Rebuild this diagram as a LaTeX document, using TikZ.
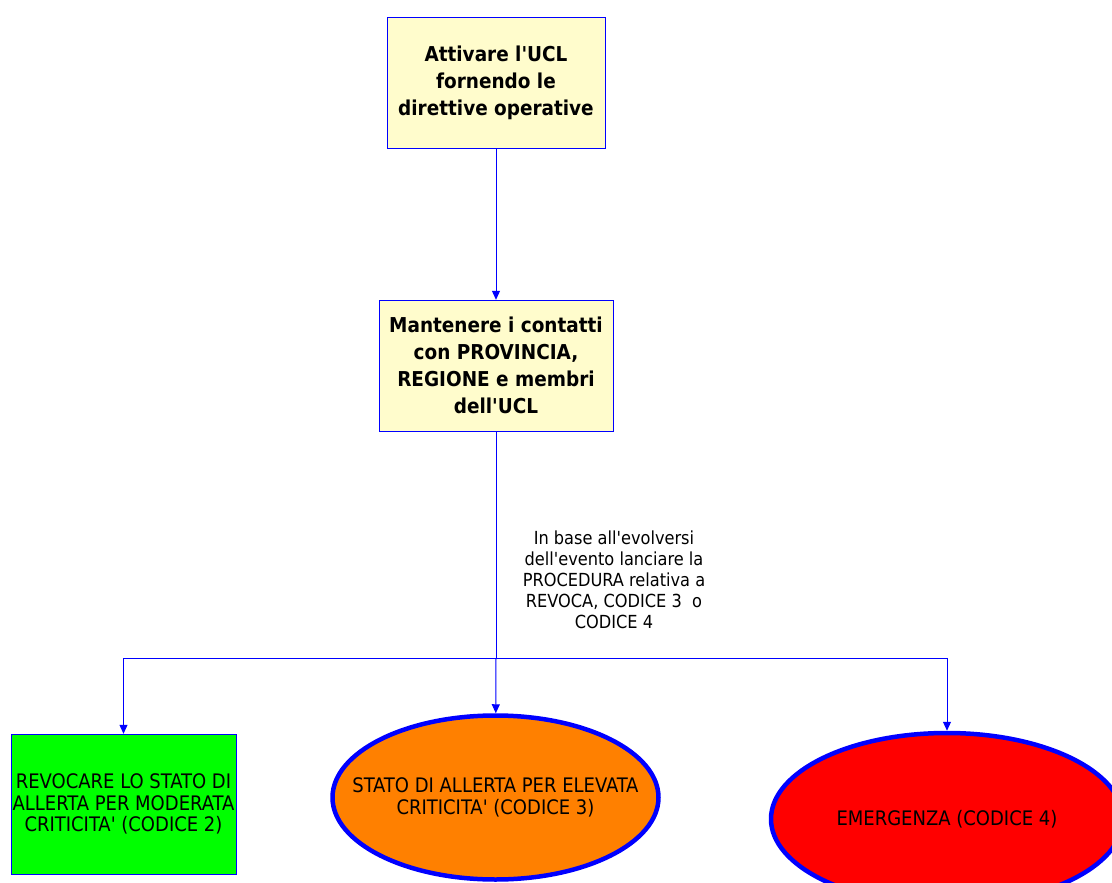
\documentclass[tikz,border=0pt]{standalone}
\usepackage{fontspec}
\setmainfont{DejaVu Sans Condensed}
\usetikzlibrary{shapes.geometric,arrows.meta}
\newcommand{\apice}{\textquotesingle}

\begin{document}
\begin{tikzpicture}[x=1pt, y=-1pt,
    box/.style={draw=blue, fill=yellow!20, align=center, inner sep=0pt,
        font=\bfseries\fontsize{20.5}{27}\selectfont},
    esito/.style={draw=blue, align=center, inner sep=0pt,
        font=\fontsize{20}{21.5}\selectfont},
    stato/.style={ellipse, draw=blue, line width=4.5pt, align=center, inner sep=0pt,
        font=\fontsize{20}{21.5}\selectfont},
    nota/.style={align=center, font=\fontsize{18}{21}\selectfont},
    linea/.style={draw=blue, line width=1pt},
    freccia/.style={linea, -{Triangle[length=9pt, width=8pt]}}]
    \useasboundingbox (0,0) rectangle (1112,883);
    \clip (0,0) rectangle (1112,883);

    \node[box, minimum width=218, minimum height=131] (attiva) at (496,82.5)
        {Attivare l\apice UCL\\fornendo le\\direttive operative};
    \node[box, minimum width=234, minimum height=131] (contatti) at (496,365.5)
        {Mantenere i contatti\\con PROVINCIA,\\REGIONE e membri\\dell\apice UCL};
    \node[nota] (nota) at (614,580)
        {In base all\apice evolversi\\dell\apice evento lanciare la\\PROCEDURA relativa a\\REVOCA, CODICE 3\ \ o\\CODICE 4};
    \coordinate (bivio) at (496,658);

    \node[esito, fill=green, minimum width=225, minimum height=140] (revoca) at (123.5,804)
        {REVOCARE LO STATO DI\\ALLERTA PER MODERATA\\CRITICITA\apice\ (CODICE 2)};
    \node[stato, fill=orange, inner xsep=-32pt, minimum width=326, minimum height=164] (allerta) at (495.5,797.5)
        {STATO DI ALLERTA PER ELEVATA\\CRITICITA\apice\ (CODICE 3)};
    \node[stato, fill=red, minimum width=352, minimum height=172] (emergenza) at (947,819)
        {EMERGENZA (CODICE 4)};

    \draw[freccia] (attiva) -- (contatti);
    \draw[linea] (contatti) -- (bivio);
    \draw[freccia] (bivio) -- (allerta);
    \draw[freccia] (bivio) -| (revoca);
    \draw[freccia] (bivio) -| (emergenza);
\end{tikzpicture}
\end{document}
